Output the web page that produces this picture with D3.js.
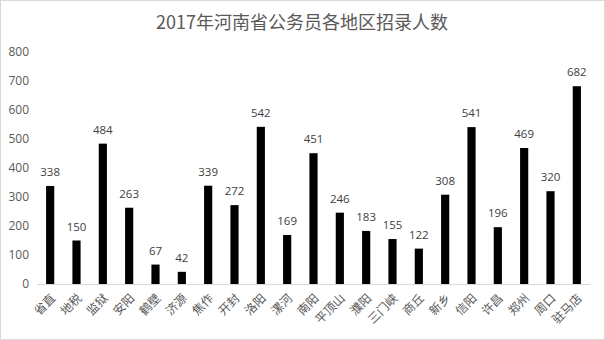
<!DOCTYPE html>
<html><head><meta charset="utf-8">
<script src="https://cdn.jsdelivr.net/npm/d3@7"></script>
<style>
body{margin:0;background:#fff;}
svg{display:block;font-family:"Noto Sans CJK SC","Noto Sans",sans-serif;}
</style></head>
<body>
<svg id="c" width="605" height="340"></svg>
<script>
const categories = ["省直","地税","监狱","安阳","鹤壁","济源","焦作","开封","洛阳","漯河","南阳","平顶山","濮阳","三门峡","商丘","新乡","信阳","许昌","郑州","周口","驻马店"];
const values = [338,150,484,263,67,42,339,272,542,169,451,246,183,155,122,308,541,196,469,320,682];
const yTicks = [0,100,200,300,400,500,600,700,800];
const title = "2017年河南省公务员各地区招录人数";

const svg = d3.select("#c");
svg.append("rect").attr("x",0.5).attr("y",0.5).attr("width",604).attr("height",339)
  .attr("fill","#fff").attr("stroke","#d9d9d9");

svg.append("text").attr("x",302).attr("y",29).attr("text-anchor","middle")
  .attr("font-size",18).attr("fill","#595959").text(title);

const x = d3.scaleBand().domain(categories).range([37,590]).paddingInner(0.69).paddingOuter(0.345);
const y = d3.scaleLinear().domain([0,800]).range([284,52]);

const yAxis = d3.axisLeft(y).tickValues(yTicks).tickSize(0).tickPadding(0);
const gy = svg.append("g").attr("transform","translate(29,0)").call(yAxis);
gy.select(".domain").remove();
gy.selectAll("text").attr("font-size",12).attr("fill","#595959")
  .attr("font-family","'Open Sans','Liberation Sans',sans-serif");

svg.append("line").attr("x1",37).attr("x2",590).attr("y1",284.5).attr("y2",284.5)
  .attr("stroke","#d9d9d9");

svg.selectAll("rect.bar").data(values).enter().append("rect").attr("class","bar")
  .attr("x",(d,i)=>x(categories[i])).attr("width",x.bandwidth())
  .attr("y",d=>y(d)).attr("height",d=>y(0)-y(d)).attr("fill","#000");

svg.selectAll("text.val").data(values).enter().append("text").attr("class","val")
  .attr("x",(d,i)=>x(categories[i])+x.bandwidth()/2).attr("y",d=>y(d)-10)
  .attr("text-anchor","middle").attr("font-size",11.5).attr("fill","#404040")
  .attr("font-family","'Open Sans','Liberation Sans',sans-serif")
  .text(d=>d);

svg.selectAll("text.cat").data(categories).enter().append("text").attr("class","cat")
  .attr("transform",d=>`translate(${x(d)+x.bandwidth()/2+3},296) rotate(-45)`)
  .attr("text-anchor","end").attr("dy","0.35em").attr("font-size",12).attr("fill","#595959")
  .text(d=>d);
</script>
</body></html>
